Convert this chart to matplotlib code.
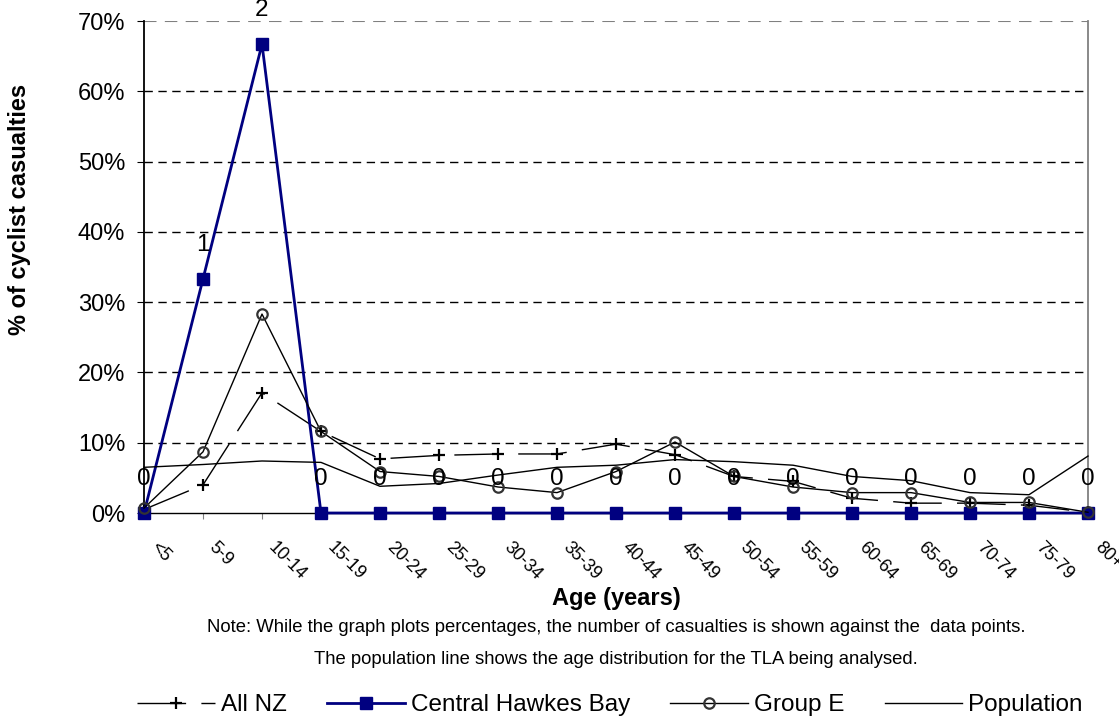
import matplotlib
matplotlib.use("Agg")
import matplotlib.pyplot as plt
from matplotlib.ticker import FuncFormatter
from matplotlib.transforms import ScaledTranslation

plt.rcParams['font.family'] = ['Liberation Sans', 'DejaVu Sans']

ages = ["<5", "5-9", "10-14", "15-19", "20-24", "25-29", "30-34", "35-39", "40-44",
        "45-49", "50-54", "55-59", "60-64", "65-69", "70-74", "75-79", "80+"]
all_nz = [0.5, 4.0, 17.1, 11.6, 7.7, 8.2, 8.4, 8.4, 9.8, 8.3, 5.2, 4.5, 2.1, 1.4, 1.4, 1.1, 0.1]
chb = [0, 33.3, 66.7, 0, 0, 0, 0, 0, 0, 0, 0, 0, 0, 0, 0, 0, 0]
chb_counts = [0, 1, 2, 0, 0, 0, 0, 0, 0, 0, 0, 0, 0, 0, 0, 0, 0]
group_e = [0.7, 8.7, 28.3, 11.6, 5.9, 5.2, 3.7, 2.9, 5.9, 10.1, 5.2, 3.7, 2.9, 2.9, 1.5, 1.5, 0.1]
population = [6.5, 6.9, 7.4, 7.2, 3.8, 4.2, 5.4, 6.5, 6.8, 7.6, 7.3, 6.8, 5.2, 4.6, 2.9, 2.6, 8.1]

x = list(range(len(ages)))

fig = plt.figure(figsize=(11.19, 7.2), dpi=100)
ax = fig.add_axes([144/1119, 1 - 513/720, (1088-144)/1119, (513-21)/720])

l1, = ax.plot(x, all_nz, color="black", lw=1, ls=(0, (35, 11)), marker="+",
              ms=8, mew=1.6, mec="black", clip_on=False, zorder=3, label="All NZ")
l2, = ax.plot(x, chb, color="#000080", lw=2, marker="s", ms=9, mec="#000080",
              clip_on=False, zorder=3, label="Central Hawkes Bay")
l3, = ax.plot(x, group_e, color="black", lw=1, marker="o", ms=7.5, mfc="none",
              mec="#333333", mew=1.6, clip_on=False, zorder=4, label="Group E")
l4, = ax.plot(x, population, color="black", lw=1, clip_on=False, zorder=3, label="Population")

for xi, yi, c in zip(x, chb, chb_counts):
    ax.annotate(str(c), (xi, yi), xytext=(0, 24.5), textcoords="offset points",
                ha="center", va="center", fontsize=17.5, zorder=5, annotation_clip=False)

ax.set_xlim(0, 16)
ax.set_ylim(0, 70)
ax.set_yticks(range(0, 71, 10))
ax.yaxis.set_major_formatter(FuncFormatter(lambda v, p: "%d%%" % v))
ax.set_xticks(x)
ax.set_xticklabels(ages, rotation=-45, ha="left", va="top", rotation_mode="anchor")
ax.tick_params(axis="y", labelsize=17, length=5, pad=8.5, color="black")
ax.tick_params(axis="x", labelsize=13, length=4.3, pad=14.4, color="#808080")
shift = ScaledTranslation(0.15, 0, fig.dpi_scale_trans)
for t in ax.get_xticklabels():
    t.set_transform(t.get_transform() + shift)

for v in range(10, 70, 10):
    ax.axhline(v, color="black", lw=1, ls=(0, (6, 4)), zorder=1)
ax.axhline(70, color="#808080", lw=1.5, ls=(0, (6, 4)), zorder=1)

ax.spines["left"].set_linewidth(1.3)
ax.spines["bottom"].set_linewidth(1.0)
ax.spines["top"].set_visible(False)
ax.spines["right"].set_color("#808080")
ax.spines["right"].set_linewidth(1.3)

fig.text(20/1119, 1 - 209/720, "% of cyclist casualties", rotation=90, ha="center",
         va="center", fontsize=17, fontweight="bold")
fig.text(616/1119, 1 - 599/720, "Age (years)", ha="center", va="center",
         fontsize=17, fontweight="bold")
fig.text(616/1119, 1 - 628/720,
         "Note: While the graph plots percentages, the number of casualties is shown against the  data points.",
         ha="center", va="center", fontsize=13.3)
fig.text(616/1119, 1 - 660/720,
         "The population line shows the age distribution for the TLA being analysed.",
         ha="center", va="center", fontsize=13.3)

fig.legend(handles=[l1, l2, l3, l4], loc="center", bbox_to_anchor=(610/1119, 1 - 705/720),
           ncol=4, frameon=False, fontsize=17.5, handlelength=3.2, handletextpad=0.25,
           columnspacing=1.65)

fig.savefig("out.png", dpi=100)
